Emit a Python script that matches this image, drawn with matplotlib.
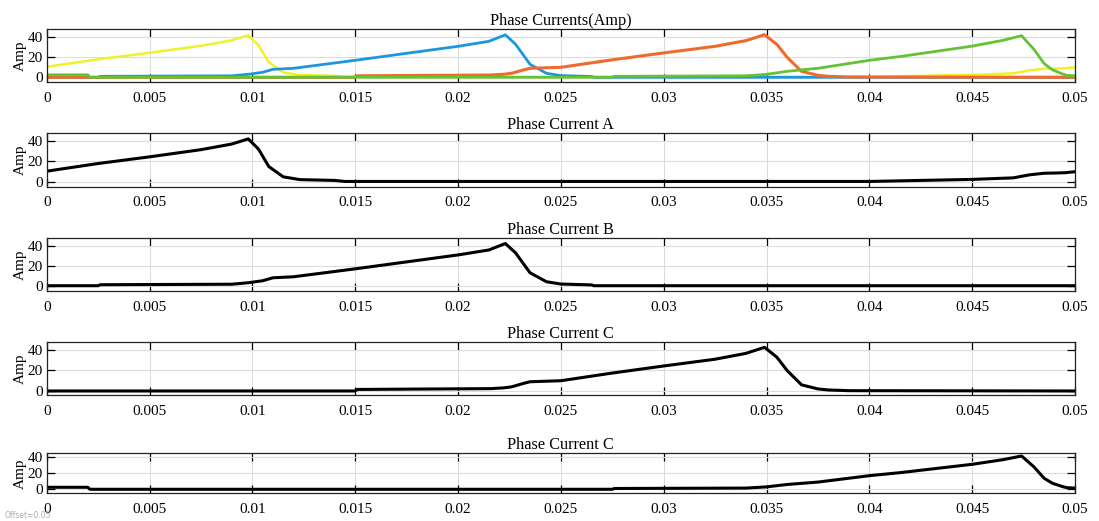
import matplotlib
matplotlib.use("Agg")
import matplotlib.pyplot as plt

# ---------------- data ----------------
tA = [0, 0.0025, 0.005, 0.0075, 0.009, 0.0098, 0.0103, 0.0108, 0.0115, 0.0123,
      0.014, 0.0145, 0.04, 0.045, 0.047, 0.0478, 0.0485, 0.049, 0.0495, 0.05]
iA = [10.5, 18, 24.5, 31.5, 37, 42, 32, 15, 5, 2.3,
      1.5, 0.5, 0.5, 2.5, 4, 7, 8.5, 8.7, 9, 10]

tB = [0, 0.0025, 0.0026, 0.009, 0.0098, 0.0105, 0.011, 0.012, 0.015, 0.0175,
      0.02, 0.0215, 0.0223, 0.0228, 0.0235, 0.0243, 0.025, 0.0265, 0.0266, 0.05]
iB = [0, 0, 1, 1.5, 3, 5, 8, 9, 17, 24,
      31, 36, 42.5, 33, 13, 4, 1.7, 0.8, 0, 0]

tC = [0, 0.015, 0.0151, 0.0216, 0.0222, 0.0226, 0.0232, 0.0235, 0.025, 0.0275,
      0.03, 0.0325, 0.034, 0.0349, 0.0355, 0.036, 0.0367, 0.0375, 0.038, 0.039, 0.05]
iC = [0, 0, 1.5, 2.3, 3, 4, 7.5, 9, 10, 17.5,
      24.4, 31, 36.7, 42.6, 33, 20, 6, 2, 1, 0.3, 0]

tD = [0, 0.002, 0.0021, 0.0275, 0.0276, 0.034, 0.035, 0.036, 0.037, 0.0375,
      0.04, 0.0415, 0.045, 0.0465, 0.0474, 0.048, 0.0485, 0.0489, 0.0494, 0.0496, 0.05]
iD = [2.5, 2.5, 0, 0, 1, 1.5, 3, 6, 8, 9,
      17, 20.8, 31.2, 37, 41.6, 28, 13.7, 7.5, 3.3, 2, 1.5]

xticks = [0, 0.005, 0.01, 0.015, 0.02, 0.025, 0.03, 0.035, 0.04, 0.045, 0.05]
xticklabels = ["0", "0.005", "0.01", "0.015", "0.02", "0.025", "0.03",
               "0.035", "0.04", "0.045", "0.05"]
yticks = [0, 20, 40]
titles = ["Phase Currents(Amp)", "Phase Current A", "Phase Current B",
          "Phase Current C", "Phase Current C"]
ylabel = "Amp"

# ---------------- style ----------------
plt.rcParams['font.family'] = ['Liberation Serif', 'DejaVu Serif']
colors = {"A": "#F0F02C", "B": "#1E96DE", "C": "#F06A2C", "D": "#64C234"}

fig = plt.figure(figsize=(10.99, 5.21), dpi=100)

left, width = 0.0425, 0.9357
boxes = [(0.8426, 0.1017), (0.6417, 0.1031), (0.4415, 0.1012),
         (0.2413, 0.1017), (0.0532, 0.0768)]
ylims = [(-4.7, 48.3), (-4.6, 47.8), (-5.3, 47.8), (-4.2, 47.5), (-5, 45)]

axes = []
for (b, h), yl, title in zip(boxes, ylims, titles):
    ax = fig.add_axes([left, b, width, h])
    ax.set_xlim(0, 0.05)
    ax.set_ylim(*yl)
    ax.set_xticks(xticks)
    ax.set_xticklabels(xticklabels)
    ax.set_yticks(yticks)
    ax.grid(True, color="#DCDCDC", lw=0.8)
    ax.set_axisbelow(True)
    ax.tick_params(direction="in", length=6, width=0.9, top=True, right=True,
                   labelsize=11, pad=7)
    ax.tick_params(axis="y", pad=3)
    ax.set_ylabel(ylabel, fontsize=11, labelpad=0)
    ax.set_title(title, fontsize=11.7, pad=3)
    for s in ax.spines.values():
        s.set_linewidth(0.9)
        s.set_color("#222222")
    axes.append(ax)

ax = axes[0]
ax.plot(tA, iA, color=colors["A"], lw=1.8)
ax.plot(tB, iB, color=colors["B"], lw=2.0)
ax.plot(tC, iC, color=colors["C"], lw=2.2)
ax.plot(tD, iD, color=colors["D"], lw=2.0)

for ax, (t, i) in zip(axes[1:], [(tA, iA), (tB, iB), (tC, iC), (tD, iD)]):
    ax.plot(t, i, color="black", lw=2.2)

fig.text(0.004, 0.001, "Offset=0.05", fontsize=5.5, color="#AAAAAA",
         family="DejaVu Sans", va="bottom")

fig.savefig("out.png", dpi=100)
